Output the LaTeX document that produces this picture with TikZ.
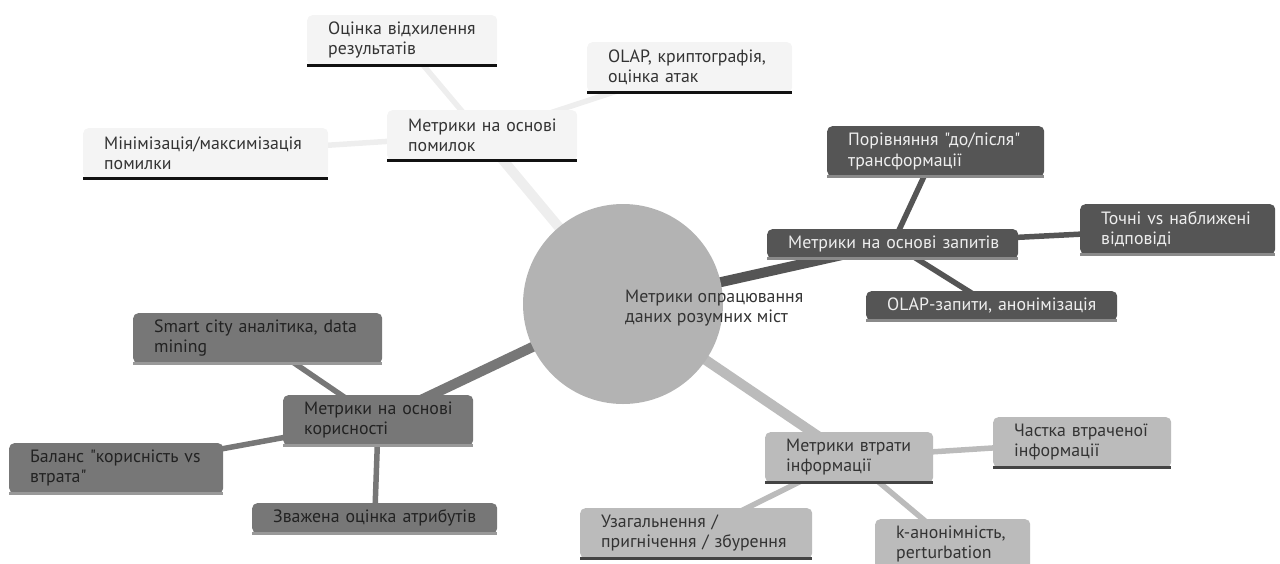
\documentclass[tikz,border=0pt]{standalone}
\usepackage{fontspec}
\setmainfont{PT Sans}[Ligatures=TeXOff]
\usetikzlibrary{backgrounds}
\definecolor{errfill}{HTML}{F4F4F4}
\definecolor{errtext}{HTML}{333333}
\definecolor{errline}{HTML}{111111}
\definecolor{erredge}{HTML}{EEEEEE}
\definecolor{qfill}{HTML}{555555}
\definecolor{qtext}{HTML}{EEEEEE}
\definecolor{qline}{HTML}{8A8A8A}
\definecolor{ufill}{HTML}{777777}
\definecolor{utext}{HTML}{222222}
\definecolor{uline}{HTML}{999999}
\definecolor{ifill}{HTML}{BBBBBB}
\definecolor{itext}{HTML}{333333}
\definecolor{iline}{HTML}{444444}
\definecolor{rootfill}{HTML}{B3B3B3}
\definecolor{roottext}{HTML}{333333}
\begin{document}
\begin{tikzpicture}[x=1pt,y=-1pt,
  txt/.style={font=\fontsize{17.8}{20.5}\selectfont},
  box/.style={txt, rectangle, rounded corners=5pt, anchor=north west, inner xsep=21pt, inner ysep=0pt,
    align=left, minimum height=50pt,
    append after command={(\tikzlastnode.south west) edge[draw=#1, line width=3pt] (\tikzlastnode.south east)}},
  errbox/.style={box=errline, fill=errfill, text=errtext},
  qbox/.style={box=qline, fill=qfill, text=qtext},
  ubox/.style={box=uline, fill=ufill, text=utext},
  ibox/.style={box=iline, fill=ifill, text=itext},
  rootedge/.style={line width=10pt},
  childedge/.style={line width=5.5pt},
]
\useasboundingbox (0,0) rectangle (1280,563);

% root
\node[circle, fill=rootfill, minimum size=200pt, inner sep=0pt] (root) at (623,304) {};
\node[txt, anchor=west, align=left, text=roottext, inner sep=0pt] (rootlbl) at (625,308)
  {Метрики опрацювання\\даних розумних міст};

% error branch
\node[errbox, text width=148pt] (err) at (387,110) {Метрики~на~основі\\помилок};
\node[errbox, text width=148pt] (e1) at (307,15) {Оцінка~відхилення\\результатів};
\node[errbox, text width=163pt] (e2) at (587,42) {OLAP,~криптографія,\\оцінка~атак};
\node[errbox, text width=203pt] (e3) at (83,128) {\mbox{Мінімізація/максимізація}\\помилки};

% query branch
\node[qbox, text width=209pt, minimum height=29pt] (qry) at (767,229) {Метрики~на~основі~запитів};
\node[qbox, text width=175pt] (q1) at (827,126) {\mbox{Порівняння "до/після"}\\трансформації};
\node[qbox, text width=153pt] (q2) at (1080,204) {Точні~vs~наближені\\відповіді};
\node[qbox, text width=209pt, minimum height=29pt] (q3) at (866,291) {\mbox{OLAP-запити, анонімізація}};

% utility branch
\node[ubox, text width=148pt] (utl) at (283,395) {Метрики~на~основі\\корисності};
\node[ubox, text width=207pt] (u1) at (133,313) {Smart~city~аналітика,~data\\mining};
\node[ubox, text width=172pt] (u2) at (9,443) {Баланс~"корисність~vs\\втрата"};
\node[ubox, text width=203pt, minimum height=30pt] (u3) at (252,503) {Зважена~оцінка~атрибутів};

% information loss branch
\node[ibox, text width=126pt] (inf) at (765,432) {Метрики~втрати\\інформації};
\node[ibox, text width=136pt] (i1) at (993,417) {Частка~втраченої\\інформації};
\node[ibox, text width=190pt] (i2) at (580,508) {Узагальнення~/\\пригнічення~/~збурення};
\node[ibox, text width=113pt] (i3) at (875,519) {\mbox{k-анонімність,}\\perturbation};

\begin{scope}[on background layer]
  \draw[rootedge, erredge] (root.center) -- (err.center);
  \draw[rootedge, qfill] (root.center) -- (qry.center);
  \draw[rootedge, ufill] (root.center) -- (utl.center);
  \draw[rootedge, ifill] (root.center) -- (inf.center);
  \draw[childedge, erredge] (err.center) -- (e1.center);
  \draw[childedge, erredge] (err.center) -- (e2.center);
  \draw[childedge, erredge] (err.center) -- (e3.center);
  \draw[childedge, qfill] (qry.center) -- (q1.center);
  \draw[childedge, qfill] (qry.center) -- (q2.center);
  \draw[childedge, qfill] (qry.center) -- (q3.center);
  \draw[childedge, ufill] (utl.center) -- (u1.center);
  \draw[childedge, ufill] (utl.center) -- (u2.center);
  \draw[childedge, ufill] (utl.center) -- (u3.center);
  \draw[childedge, ifill] (inf.center) -- (i1.center);
  \draw[childedge, ifill] (inf.center) -- (i2.center);
  \draw[childedge, ifill] (inf.center) -- (i3.center);
\end{scope}
\end{tikzpicture}
\end{document}
